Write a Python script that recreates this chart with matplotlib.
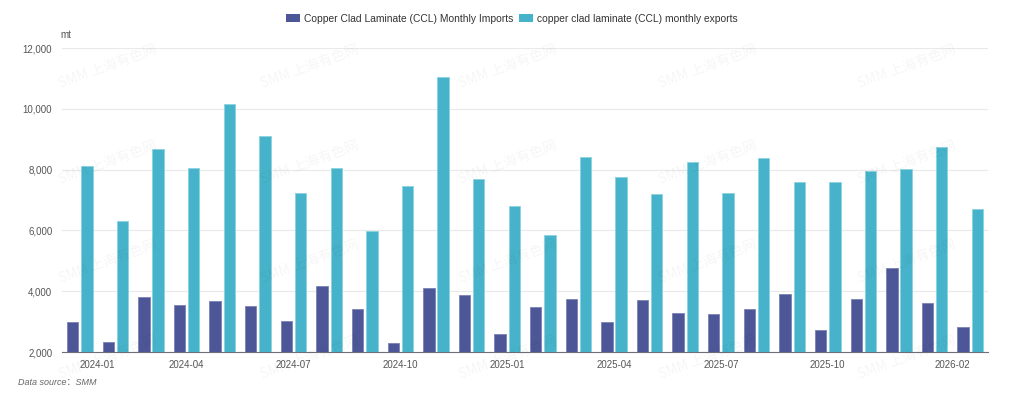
import numpy as np
import matplotlib
matplotlib.use('Agg')
import matplotlib.pyplot as plt
from matplotlib.patches import Patch

# Monthly data, 2024-01 .. 2026-02 (mt)
months = ['2024-01', '2024-02', '2024-03', '2024-04', '2024-05', '2024-06',
          '2024-07', '2024-08', '2024-09', '2024-10', '2024-11', '2024-12',
          '2025-01', '2025-02', '2025-03', '2025-04', '2025-05', '2025-06',
          '2025-07', '2025-08', '2025-09', '2025-10', '2025-11', '2025-12',
          '2026-01', '2026-02']
imports = [3000, 2340, 3810, 3550, 3680, 3510, 3020, 4180, 3430, 2300,
           4115, 3875, 2600, 3480, 3750, 3000, 3720, 3290, 3250, 3420,
           3910, 2720, 3740, 4760, 3600, 2830]
exports = [8130, 6310, 8680, 8060, 10160, 9105, 7230, 8040, 5990, 7460,
           11030, 7690, 6810, 5860, 8400, 7770, 7200, 8240, 7230, 8380,
           7580, 7600, 7940, 8020, 8740, 6720]
label_idx = [0, 3, 6, 9, 12, 15, 18, 21, 25]

import_name = 'Copper Clad Laminate (CCL) Monthly Imports'
export_name = 'copper clad laminate (CCL) monthly exports'
c_imp = '#4D5797'
c_exp = '#46B3CA'

plt.rcParams['font.family'] = ['Liberation Sans', 'Noto Sans CJK SC']

fig = plt.figure(figsize=(10.24, 3.99), dpi=100)
ax = fig.add_axes([62 / 1024, 1 - 352 / 399, 926 / 1024, 304 / 399])

x = np.arange(len(months))
w = 0.32
ax.bar(x - 0.2, imports, width=w, color=c_imp, edgecolor='#7A82B5',
       linewidth=0.6, zorder=3)
ax.bar(x + 0.2, exports, width=w, color=c_exp, edgecolor='#8AD3E0',
       linewidth=0.6, zorder=3)

ax.set_xlim(-0.5, len(months) - 0.5)
ax.set_ylim(2000, 12000)
ax.set_yticks(np.arange(2000, 12001, 2000))
ax.yaxis.set_major_formatter(matplotlib.ticker.FuncFormatter(lambda v, p: f'{int(v):,}'))
ax.set_xticks(label_idx)
ax.set_xticklabels([months[i] for i in label_idx])
xl = ax.get_xticklabels()
xl[0].set_horizontalalignment('left')
xl[-1].set_horizontalalignment('right')

ax.tick_params(axis='both', length=0, labelsize=7, colors='#555555')
ax.tick_params(axis='x', pad=6)
ax.tick_params(axis='y', pad=7)
ax.grid(axis='y', color='#E9E9E9', linewidth=0.8, zorder=0)
for s in ['top', 'right', 'left']:
    ax.spines[s].set_visible(False)
ax.spines['bottom'].set_color('#6E7079')
ax.spines['bottom'].set_linewidth(0.8)

# legend on top
handles = [Patch(facecolor=c_imp, edgecolor='none'),
           Patch(facecolor=c_exp, edgecolor='none')]
fig.legend(handles, [import_name, export_name], loc='center',
           bbox_to_anchor=(0.5, 1 - 19 / 399), ncol=2, frameon=False,
           fontsize=7.4, handlelength=1.4, handleheight=0.8,
           handletextpad=0.4, columnspacing=0.5, labelcolor='#333333')

fig.text(60 / 1024, 1 - 35 / 399, 'mt', fontsize=7, color='#555555', va='center')
fig.text(18 / 1024, 1 - 382 / 399, 'Data source：SMM', fontsize=6.5,
         color='#666666', style='italic', va='center')

# faint watermark grid
for wy in [67, 163, 262, 358]:
    for wx in [108, 310, 508, 708, 907]:
        fig.text(wx / 1024, 1 - wy / 399, 'SMM 上海有色网', fontsize=10,
                 color='#000000', alpha=0.04, rotation=20,
                 ha='center', va='center',
                 family=['Noto Sans CJK SC', 'DejaVu Sans'], zorder=10)

fig.savefig('out.png', dpi=100)
